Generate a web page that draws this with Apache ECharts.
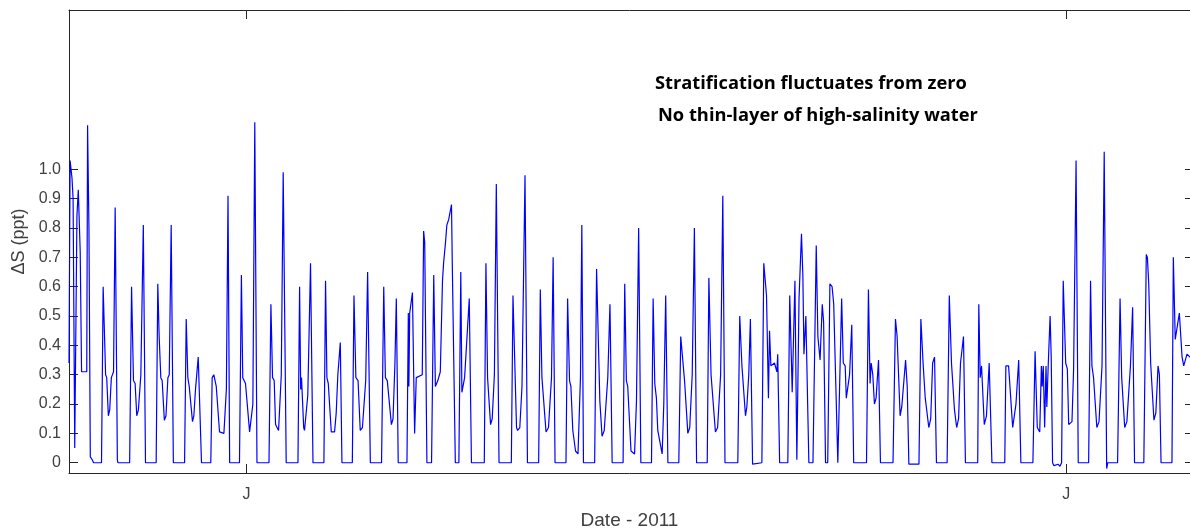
<!DOCTYPE html>
<html>
<head>
<meta charset="utf-8">
<title>Stratification</title>
<script src="https://cdn.jsdelivr.net/npm/echarts@6/dist/echarts.min.js"></script>
<style>
  html, body { margin: 0; padding: 0; background: #fff; }
  #chart { width: 1190px; height: 531px; }
</style>
</head>
<body>
<div id="chart"></div>
<script>
// time in days from the first "J" tick (1 June 2011), one row per daily pulse
const tDays = [
  -6.50, -6.46, -6.39, -6.35, -6.29, -6.21, -6.16, -6.09, -6.04, -5.85, -5.82, -5.77, -5.72, -5.65, -5.60,
  -5.31, -5.25, -5.16, -5.12, -5.06, -5.01, -4.95, -4.87, -4.81, -4.73, -4.71,
  -4.28, -4.21, -4.14, -4.08, -4.02, -3.96, -3.87, -3.78, -3.70,
  -3.31, -3.25, -3.20, -3.14, -3.09, -3.01, -2.95, -2.88, -2.83, -2.76, -2.68,
  -2.27, -2.21, -2.15, -2.10, -1.98, -1.93, -1.87, -1.77, -1.65,
  -1.31, -1.26, -1.20, -1.11, -0.99, -0.83, -0.74, -0.68, -0.62,
  -0.26, -0.19, -0.14, -0.04, 0.11, 0.17, 0.23, 0.30, 0.38,
  0.82, 0.89, 0.95, 1.01, 1.06, 1.17, 1.27, 1.34, 1.45,
  1.88, 1.94, 1.98, 2.01, 2.09, 2.12, 2.24, 2.34, 2.43,
  2.83, 2.89, 2.94, 2.99, 3.10, 3.22, 3.28, 3.34, 3.43, 3.49,
  3.87, 3.93, 4.00, 4.08, 4.16, 4.24, 4.36, 4.43, 4.53,
  4.94, 5.02, 5.08, 5.15, 5.30, 5.36, 5.43, 5.48, 5.55,
  5.87, 5.92, 5.94, 5.97, 6.07, 6.15, 6.21, 6.43, 6.48, 6.52, 6.60,
  6.77, 6.85, 6.91, 7.00, 7.09, 7.17, 7.21, 7.28, 7.33, 7.40, 7.50, 7.53, 7.64,
  7.77, 7.84, 7.88, 7.98, 8.15, 8.23,
  8.70, 8.76, 8.82, 8.93, 8.99, 9.07, 9.14, 9.24,
  9.69, 9.75, 9.88, 9.92, 10.00, 10.08, 10.19, 10.28,
  10.69, 10.75, 10.81, 10.96, 11.05, 11.16, 11.22, 11.29,
  11.69, 11.75, 11.82, 11.87, 11.94, 12.04, 12.13, 12.22, 12.27, 12.33,
  12.74, 12.81, 12.93, 13.01, 13.09, 13.22, 13.30, 13.38,
  13.78, 13.84, 13.90, 13.95, 14.07, 14.20, 14.27, 14.35, 14.43,
  14.82, 14.88, 14.94, 15.00, 15.05, 15.21, 15.27, 15.34, 15.42,
  15.82, 15.89, 16.03, 16.15, 16.22, 16.31, 16.39, 16.47,
  16.86, 16.92, 17.00, 17.16, 17.24, 17.35, 17.43, 17.51,
  17.98, 18.05, 18.13, 18.26, 18.31, 18.38, 18.44, 18.52,
  18.86, 18.93, 19.03, 19.10, 19.14, 19.19, 19.32, 19.41, 19.44, 19.51,
  19.81, 19.88, 19.97, 20.07, 20.14, 20.22, 20.31, 20.36, 20.40, 20.47, 20.58,
  20.73, 20.85, 20.91, 20.99, 21.07, 21.12, 21.19,
  21.27, 21.35, 21.43, 21.49, 21.64,
  21.70, 21.78, 21.84, 21.91, 21.95, 22.07, 22.15, 22.22,
  22.69, 22.76, 22.82, 22.86, 22.92, 22.98, 23.04, 23.13, 23.20,
  23.66, 23.75, 23.81, 23.92, 23.98, 24.12, 24.18, 24.24,
  24.61, 24.68, 24.76, 24.84, 24.97, 25.04, 25.11, 25.18, 25.25,
  25.64, 25.72, 25.80, 25.91, 25.99, 26.06, 26.13, 26.24, 26.31,
  26.76, 26.80, 26.85, 26.90, 27.00, 27.08, 27.18, 27.23, 27.28,
  27.75, 27.79, 27.89, 28.04, 28.16, 28.26, 28.34,
  28.78, 28.86, 28.94, 29.03, 29.09, 29.12, 29.16, 29.21, 29.26, 29.29, 29.34, 29.41, 29.45, 29.50,
  29.55, 29.70, 29.77, 29.83, 29.89, 29.98, 30.04, 30.09, 30.21, 30.27, 30.36, 30.44,
  30.82, 30.89, 30.94, 31.00, 31.12, 31.20, 31.31, 31.39, 31.48, 31.52,
  31.88, 31.97, 32.03, 32.14, 32.22, 32.35, 32.43, 32.50,
  32.84, 32.93, 32.97, 33.02, 33.09, 33.21, 33.28, 33.36, 33.41, 33.47,
  33.87, 33.92, 33.99, 34.14, 34.24, 34.30, 34.42, 34.53, 34.71
]

// salinity difference (ppt), same rows as tDays
const deltaS = [
  0.34, 1.03, 0.97, 0.90, 0.05, 0.84, 0.93, 0.72, 0.31, 0.31, 1.15, 0.80, 0.02, 0.01, 0,
  0, 0.60, 0.30, 0.29, 0.16, 0.18, 0.29, 0.31, 0.87, 0.01, 0,
  0, 0.60, 0.28, 0.27, 0.16, 0.18, 0.30, 0.81, 0,
  0, 0.61, 0.43, 0.29, 0.28, 0.145, 0.16, 0.29, 0.30, 0.81, 0,
  0, 0.49, 0.29, 0.26, 0.14, 0.16, 0.25, 0.36, 0,
  0, 0.29, 0.30, 0.26, 0.105, 0.10, 0.25, 0.91, 0,
  0, 0.64, 0.29, 0.27, 0.105, 0.11, 0.20, 1.16, 0,
  0, 0.54, 0.29, 0.28, 0.13, 0.11, 0.30, 0.99, 0,
  0, 0.60, 0.25, 0.29, 0.12, 0.11, 0.23, 0.68, 0,
  0, 0.62, 0.29, 0.27, 0.105, 0.105, 0.17, 0.30, 0.41, 0,
  0, 0.57, 0.29, 0.28, 0.11, 0.12, 0.28, 0.65, 0,
  0, 0.60, 0.29, 0.28, 0.13, 0.15, 0.34, 0.56, 0,
  0, 0.51, 0.26, 0.51, 0.58, 0.10, 0.29, 0.30, 0.79, 0.75, 0,
  0, 0.64, 0.26, 0.28, 0.31, 0.62, 0.68, 0.75, 0.81, 0.83, 0.88, 0.67, 0,
  0, 0.65, 0.24, 0.29, 0.56, 0,
  0, 0.68, 0.29, 0.13, 0.15, 0.30, 0.95, 0,
  0, 0.57, 0.12, 0.11, 0.12, 0.26, 0.98, 0,
  0, 0.59, 0.29, 0.105, 0.12, 0.29, 0.70, 0,
  0, 0.56, 0.28, 0.26, 0.11, 0.04, 0.03, 0.29, 0.81, 0,
  0, 0.66, 0.21, 0.09, 0.11, 0.29, 0.54, 0,
  0, 0.61, 0.28, 0.26, 0.04, 0.03, 0.21, 0.80, 0,
  0, 0.56, 0.27, 0.22, 0.11, 0.03, 0.20, 0.57, 0,
  0, 0.43, 0.28, 0.10, 0.12, 0.30, 0.80, 0,
  0, 0.63, 0.30, 0.105, 0.12, 0.30, 0.91, 0,
  0, 0.50, 0.33, 0.16, 0.19, 0.30, 0.49, -0.005,
  0, 0.68, 0.57, 0.22, 0.45, 0.33, 0.34, 0.31, 0.37, 0,
  0, 0.57, 0.24, 0.62, 0.01, 0.56, 0.78, 0.64, 0.37, 0.50, 0,
  0, 0.74, 0.43, 0.35, 0.54, 0.48, 0,
  0, 0.61, 0.60, 0.54, 0,
  0, 0.56, 0.34, 0.33, 0.22, 0.30, 0.47, 0,
  0, 0.59, 0.27, 0.34, 0.30, 0.20, 0.22, 0.35, 0,
  0, 0.49, 0.43, 0.16, 0.19, 0.35, 0.26, -0.005,
  -0.005, 0.49, 0.34, 0.22, 0.12, 0.15, 0.34, 0.36, 0,
  0, 0.57, 0.34, 0.18, 0.12, 0.15, 0.34, 0.43, 0,
  0, 0.54, 0.29, 0.33, 0.13, 0.16, 0.34, 0.34, 0,
  0, 0.33, 0.33, 0.12, 0.20, 0.35, 0,
  0, 0.38, 0.12, 0.105, 0.33, 0.26, 0.33, 0.12, 0.33, 0.19, 0.33, 0.50, 0.36, 0,
  -0.01, -0.005, -0.012, 0, 0.62, 0.34, 0.32, 0.13, 0.14, 0.32, 1.03, 0,
  0, 0.62, 0.33, 0.29, 0.12, 0.14, 0.33, 1.06, -0.02, 0,
  0, 0.56, 0.29, 0.12, 0.14, 0.33, 0.53, 0,
  0, 0.71, 0.70, 0.61, 0.34, 0.145, 0.17, 0.33, 0.30, 0,
  0, 0.70, 0.42, 0.51, 0.36, 0.33, 0.37, 0.36, 0.38
]

const monthTicks = [0, 30]
const monthLabels = ['J', 'J']
const yTicks = [0, 0.1, 0.2, 0.3, 0.4, 0.5, 0.6, 0.7, 0.8, 0.9, 1.0]
const notes = ['Stratification fluctuates from zero', 'No thin-layer of high-salinity water']

const axisColor = '#262626'
const labelColor = '#404040'
const font = '"Liberation Sans", Arial, sans-serif'
const noteFont = 'bold 18.3px "Open Sans", Lato, sans-serif'

const chart = echarts.init(document.getElementById('chart'))

const xBase = {
  type: 'value',
  min: -6.5,
  max: 34.53, // right edge of the visible window
  axisLine: { show: true, onZero: false, lineStyle: { color: axisColor, width: 1 } },
  axisTick: { show: true, inside: true, length: 9, customValues: monthTicks, lineStyle: { color: axisColor } },
  splitLine: { show: false }
}
const yBase = {
  type: 'value',
  min: -0.035,
  max: 1.543,
  axisLine: { show: true, onZero: false, lineStyle: { color: axisColor, width: 1 } },
  axisTick: { show: true, inside: true, length: 9, customValues: yTicks, lineStyle: { color: axisColor } },
  splitLine: { show: false }
}

const option = {
  backgroundColor: '#fff',
  animation: false,
  grid: { left: 69, right: 0, top: 10, bottom: 58, containLabel: false, outerBoundsMode: 'none' },
  xAxis: [
    Object.assign({}, xBase, {
      position: 'bottom',
      axisLabel: {
        customValues: monthTicks,
        formatter: v => monthLabels[monthTicks.indexOf(v)],
        color: labelColor,
        fontSize: 16,
        fontFamily: font,
        margin: 14
      },
      name: 'Date - 2011',
      nameLocation: 'middle',
      nameGap: 38,
      nameTextStyle: { color: labelColor, fontSize: 19, fontFamily: font }
    }),
    Object.assign({}, xBase, { position: 'top', axisLabel: { show: false } })
  ],
  yAxis: [
    Object.assign({}, yBase, {
      position: 'left',
      axisLabel: {
        customValues: yTicks,
        formatter: v => (v === 0 ? '0' : v.toFixed(1)),
        color: labelColor,
        fontSize: 16,
        fontFamily: font,
        margin: 8
      },
      name: 'ΔS (ppt)',
      nameLocation: 'middle',
      nameGap: 34,
      nameRotate: 90,
      nameTextStyle: { color: labelColor, fontSize: 18, fontFamily: font }
    }),
    // mirrored box edge: the frame line itself lies just outside the picture
    Object.assign({}, yBase, {
      position: 'right',
      axisLine: { show: false, onZero: false },
      axisTick: { show: true, inside: true, length: 5, customValues: yTicks, lineStyle: { color: axisColor } },
      axisLabel: { show: false }
    })
  ],
  graphic: [
    {
      type: 'text', x: 655, y: 84,
      style: { text: notes[0], fill: '#000', font: noteFont, verticalAlign: 'middle' }
    },
    {
      type: 'text', x: 658, y: 116,
      style: { text: notes[1], fill: '#000', font: noteFont, verticalAlign: 'middle' }
    }
  ],
  series: [
    {
      type: 'line',
      data: tDays.map((t, i) => [t, deltaS[i]]),
      showSymbol: false,
      symbol: 'none',
      clip: true,
      lineStyle: { color: '#0000ff', width: 1.2 }
    }
  ]
}

chart.setOption(option)
window.addEventListener('resize', () => chart.resize())
</script>
</body>
</html>
